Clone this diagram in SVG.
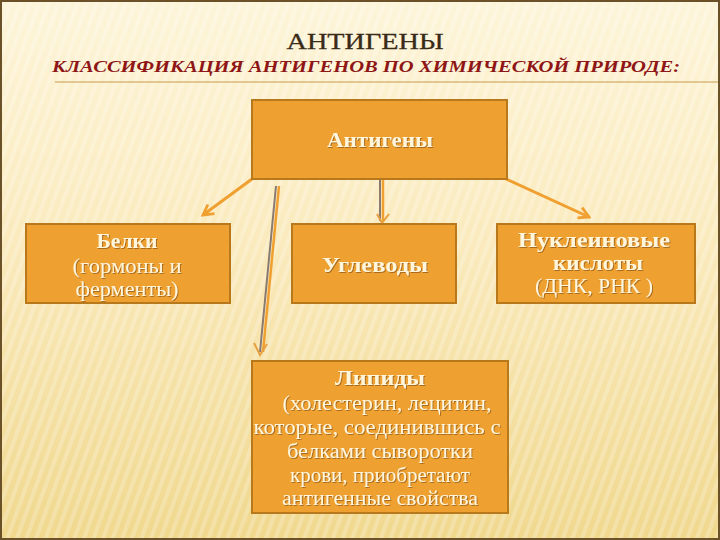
<svg xmlns="http://www.w3.org/2000/svg" width="720" height="540" viewBox="0 0 720 540">
<defs>
<linearGradient id="bg" x1="0" y1="0" x2="0" y2="1">
<stop offset="0" stop-color="#fdf5da"/>
<stop offset="0.45" stop-color="#faeabd"/>
<stop offset="1" stop-color="#f0d88e"/>
</linearGradient>
<pattern id="stripes" width="9" height="9" patternUnits="userSpaceOnUse" patternTransform="rotate(20)">
<rect width="4" height="9" fill="#ffffff" opacity="0.22"/>
</pattern>
<marker id="chev" viewBox="0 0 12 12" refX="10" refY="6" markerWidth="4.5" markerHeight="4.5" orient="auto" markerUnits="strokeWidth">
<polyline points="1,1 10,6 1,11" fill="none" stroke="#f0a030" stroke-width="2.5"/>
</marker>
<filter id="sh" x="-5%" y="-10%" width="110%" height="130%">
<feDropShadow dx="1" dy="1" stdDeviation="0.6" flood-color="#7a4a10" flood-opacity="0.6"/>
</filter>
</defs>
<style>
.box{fill:#eea030;stroke:#b8781c;stroke-width:2}
.t{font-family:"Liberation Serif","DejaVu Serif",serif;fill:#fff6dc;text-anchor:middle;font-size:20px;filter:url(#sh)}
.b{font-weight:bold}
.ln{fill:none;stroke-width:3}
</style>
<rect width="720" height="540" fill="url(#bg)"/>
<rect width="720" height="540" fill="url(#stripes)"/>
<rect x="1" y="1" width="718" height="538" fill="none" stroke="#6b5128" stroke-width="2"/>
<line x1="55" y1="82" x2="718" y2="82" stroke="#d9b878" stroke-width="1.5"/>
<text x="365" y="49" font-family="Liberation Serif, DejaVu Serif, serif" font-size="24" fill="#3a2a18" stroke="#3a2a18" stroke-width="0.3" text-anchor="middle" textLength="157" lengthAdjust="spacingAndGlyphs">АНТИГЕНЫ</text>
<text x="366" y="72" font-family="Liberation Serif, DejaVu Serif, serif" font-size="16.5" font-weight="bold" font-style="italic" fill="#8e1616" text-anchor="middle" textLength="628" lengthAdjust="spacingAndGlyphs">КЛАССИФИКАЦИЯ АНТИГЕНОВ ПО ХИМИЧЕСКОЙ ПРИРОДЕ:</text>
<g id="connectors">
<line class="ln" x1="252" y1="179" x2="203" y2="215" stroke="#f0a030" marker-end="url(#chev)"/>
<line class="ln" x1="506" y1="179" x2="589" y2="217" stroke="#f0a030" marker-end="url(#chev)"/>
<line x1="279" y1="186" x2="263" y2="352" stroke="#f0a030" stroke-width="2.5"/>
<line x1="276" y1="186" x2="260" y2="352" stroke="#8a7a70" stroke-width="2"/>
<polyline points="254,343 260,355 267,344" fill="none" stroke="#e8a040" stroke-width="2"/>
<line x1="380" y1="180" x2="380" y2="221" stroke="#8a7a70" stroke-width="2"/>
<line x1="383" y1="180" x2="383" y2="221" stroke="#f0a030" stroke-width="2.5"/>
<polyline points="377,214 382,223 389,214" fill="none" stroke="#e8a040" stroke-width="2"/>
</g>
<g id="antigeny">
<rect class="box" x="252" y="100" width="255" height="79"/>
<text class="t b" x="380" y="147" textLength="106" lengthAdjust="spacingAndGlyphs">Антигены</text>
</g>
<g id="belki">
<rect class="box" x="26" y="224" width="204" height="79"/>
<text class="t b" x="127" y="248" textLength="61" lengthAdjust="spacingAndGlyphs">Белки</text>
<text class="t" x="127" y="273" textLength="109" lengthAdjust="spacingAndGlyphs">(гормоны и</text>
<text class="t" x="127" y="296" textLength="103" lengthAdjust="spacingAndGlyphs">ферменты)</text>
</g>
<g id="uglevody">
<rect class="box" x="292" y="224" width="164" height="79"/>
<text class="t b" x="375" y="272" textLength="106" lengthAdjust="spacingAndGlyphs">Углеводы</text>
</g>
<g id="nukleinovye">
<rect class="box" x="497" y="224" width="198" height="79"/>
<text class="t b" x="594" y="247" textLength="152" lengthAdjust="spacingAndGlyphs">Нуклеиновые</text>
<text class="t b" x="598" y="270" textLength="90" lengthAdjust="spacingAndGlyphs">кислоты</text>
<text class="t" x="594" y="293" textLength="118" lengthAdjust="spacingAndGlyphs">(ДНК, РНК )</text>
</g>
<g id="lipidy">
<rect class="box" x="252" y="361" width="256" height="152"/>
<text class="t b" x="380" y="385" textLength="90" lengthAdjust="spacingAndGlyphs">Липиды</text>
<text class="t" x="387" y="410" textLength="209" lengthAdjust="spacingAndGlyphs">(холестерин, лецитин,</text>
<text class="t" x="377" y="434" textLength="247" lengthAdjust="spacingAndGlyphs">которые, соединившись с</text>
<text class="t" x="380" y="458" textLength="186" lengthAdjust="spacingAndGlyphs">белками сыворотки</text>
<text class="t" x="380" y="482" textLength="180" lengthAdjust="spacingAndGlyphs">крови, приобретают</text>
<text class="t" x="380" y="505" textLength="196" lengthAdjust="spacingAndGlyphs">антигенные свойства</text>
</g>
</svg>
